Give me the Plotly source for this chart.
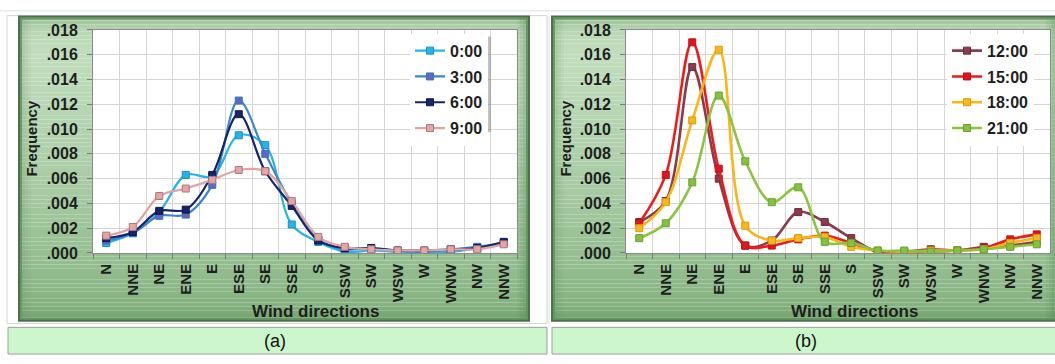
import math

import plotly.graph_objects as go

# ---------------- data ----------------
directions = ["N", "NNE", "NE", "ENE", "E", "ESE", "SE", "SSE",
              "S", "SSW", "SW", "WSW", "W", "WNW", "NW", "NNW"]

freq_0000 = [0.0008, 0.0016, 0.0033, 0.0063, 0.0062, 0.0095, 0.0087, 0.0023,
             0.0009, 0.0001, 0.0002, 0.0001, 0.0001, 0.0001, 0.0004, 0.0008]
freq_0300 = [0.0010, 0.0016, 0.0030, 0.0031, 0.0055, 0.0123, 0.0080, 0.0040,
             0.0011, 0.0003, 0.0004, 0.0002, 0.0001, 0.0003, 0.0005, 0.0008]
freq_0600 = [0.0012, 0.0017, 0.0034, 0.0035, 0.0063, 0.0112, 0.0066, 0.0038,
             0.0010, 0.0004, 0.0004, 0.0002, 0.0002, 0.0003, 0.0004, 0.0009]
freq_0900 = [0.0014, 0.0021, 0.0046, 0.0052, 0.0059, 0.0067, 0.0066, 0.0042,
             0.0013, 0.0005, 0.0003, 0.0002, 0.0002, 0.0003, 0.0003, 0.0007]

freq_1200 = [0.0025, 0.0042, 0.0150, 0.0060, 0.0006, 0.0010, 0.0033, 0.0025,
             0.0012, 0.0001, 0.0001, 0.0003, 0.0002, 0.0005, 0.0006, 0.0009]
freq_1500 = [0.0024, 0.0063, 0.0170, 0.0068, 0.0006, 0.0006, 0.0011, 0.0014,
             0.0008, 0.0001, 0.0000, 0.0001, 0.0002, 0.0004, 0.0011, 0.0015]
freq_1800 = [0.0020, 0.0041, 0.0107, 0.0164, 0.0022, 0.0010, 0.0012, 0.0013,
             0.0005, 0.0002, 0.0001, 0.0002, 0.0002, 0.0003, 0.0008, 0.0012]
freq_2100 = [0.0012, 0.0024, 0.0057, 0.0127, 0.0074, 0.0041, 0.0053, 0.0009,
             0.0008, 0.0002, 0.0002, 0.0001, 0.0002, 0.0003, 0.0005, 0.0007]

y_tick_vals = [0.000, 0.002, 0.004, 0.006, 0.008, 0.010, 0.012, 0.014, 0.016, 0.018]
y_tick_text = [".000", ".002", ".004", ".006", ".008", ".010", ".012", ".014", ".016", ".018"]

# ---------------- helpers ----------------
W, H = 1055, 364
FONT = "Arial, Liberation Sans, sans-serif"


def px(x):
    return x / W


def py(y):
    return 1 - y / H


def rect(x0, y0, x1, y1, fill, line=None, layer="below"):
    return dict(type="rect", xref="paper", yref="paper",
                x0=px(x0), x1=px(x1), y0=py(y1), y1=py(y0),
                fillcolor=fill, line=line or dict(width=0), layer=layer)


def mix(c1, c2, t):
    t = max(0.0, min(1.0, t))
    return "rgb(%d,%d,%d)" % tuple(round(a * (1 - t) + b * t) for a, b in zip(c1, c2))


def frame_shapes(x0, y0, x1, y1):
    """Green bevelled chart-area frame drawn as stacked bands."""
    out = []
    light = (222, 241, 217)
    dark = (118, 168, 114)
    h = y1 - y0
    step = 4
    v = 0
    while v < h:
        vm = v + step / 2
        t = 0.24 + 0.62 * (vm / h) ** 1.3 + 0.55 * math.exp(-vm / 10.0) \
            + 0.25 * math.exp(-(h - vm) / 12.0)
        out.append(rect(x0, y0 + v, x1, min(y0 + v + step, y1), mix(light, dark, t)))
        v += step
    for i, a in enumerate([0.30, 0.20, 0.12, 0.06]):
        out.append(rect(x0 + 3 * i, y0, x0 + 3 * (i + 1), y1, "rgba(90,140,88,%.2f)" % a))
        out.append(rect(x1 - 3 * (i + 1), y0, x1 - 3 * i, y1, "rgba(80,130,78,%.2f)" % (a * 1.5)))
    out.append(rect(x0 + 2, y0 + 2, x1 - 2, y1 - 2, "rgba(0,0,0,0)",
                    dict(color="rgba(100,148,96,0.9)", width=2)))
    out.append(rect(x0, y0, x1, y1, "rgba(0,0,0,0)", dict(color="#4e6e4e", width=2)))
    return out


# ---------------- figure ----------------
fig = go.Figure()

panel_a = [
    ("0:00", freq_0000, "#27b4e6", "#27b4e6", "#1590c8"),
    ("3:00", freq_0300, "#3a86cc", "#6a64c0", "#2a78c4"),
    ("6:00", freq_0600, "#18236a", "#18236a", "#0e1650"),
    ("9:00", freq_0900, "#e2a3a3", "#e8a4a0", "#a27a86"),
]
panel_b = [
    ("12:00", freq_1200, "#8a3b4c", "#8a3b4c", "#6e2a3a"),
    ("15:00", freq_1500, "#ee1b1b", "#e4141e", "#c01016"),
    ("18:00", freq_1800, "#fbb614", "#f6b820", "#e09a00"),
    ("21:00", freq_2100, "#8cc43f", "#86c043", "#6aa230"),
]

for name, vals, lc, mc, mlc in panel_a:
    fig.add_trace(go.Scatter(
        x=directions, y=vals, name=name, mode="lines+markers",
        line=dict(color=lc, width=2.2, shape="spline", smoothing=1.0),
        marker=dict(symbol="square", size=7, color=mc, line=dict(color=mlc, width=1)),
        xaxis="x", yaxis="y", legend="legend", legendgroup=name,
    ))

for name, vals, lc, mc, mlc in panel_b:
    fig.add_trace(go.Scatter(
        x=directions, y=vals, name=name, mode="lines+markers",
        line=dict(color=lc, width=2.6, shape="spline", smoothing=1.0),
        marker=dict(symbol="square", size=7, color=mc, line=dict(color=mlc, width=1)),
        xaxis="x2", yaxis="y2", legend="legend2", legendgroup=name,
    ))

xaxis_common = dict(
    type="category", categoryorder="array", categoryarray=directions,
    range=[-0.5, 15.5], tickson="boundaries", ticks="outside", ticklen=5,
    tickcolor="#7a7a7a", tickangle=-90, ticklabelstandoff=4,
    tickfont=dict(family=FONT, size=15, color="#1e1e1e", weight="bold"),
    showgrid=True, gridcolor="#d6d6d6", gridwidth=1,
    showline=True, linecolor="#8a8a8a", linewidth=1, mirror=True,
    zeroline=False, fixedrange=True,
)
yaxis_common = dict(
    range=[0, 0.018], tickvals=y_tick_vals, ticktext=y_tick_text,
    ticks="outside", ticklen=5, tickcolor="#7a7a7a", ticklabelstandoff=6,
    tickfont=dict(family=FONT, size=16, color="#1e1e1e", weight="bold"),
    showgrid=True, gridcolor="#d6d6d6", gridwidth=1,
    showline=True, linecolor="#8a8a8a", linewidth=1, mirror=True,
    zeroline=False, fixedrange=True,
)

legend_common = dict(
    bgcolor="#ffffff", borderwidth=0, tracegroupgap=2,
    font=dict(family=FONT, size=16, color="#1e1e1e", weight="bold"),
    xanchor="left", yanchor="top", itemclick=False, itemdoubleclick=False,
)

shapes = [
    dict(type="line", xref="paper", yref="paper", x0=0, x1=1, y0=py(3), y1=py(3),
         line=dict(color="#dedede", width=1), layer="below"),
    rect(7, 8, 547, 331, "rgba(0,0,0,0)", dict(color="#d4d4d4", width=1)),
    dict(type="line", xref="paper", yref="paper", x0=px(549), x1=px(549), y0=py(331), y1=py(8),
         line=dict(color="#dedede", width=1), layer="below"),
]
shapes += frame_shapes(19, 9, 529, 328)
shapes += frame_shapes(552, 9, 1058, 328)
shapes += [
    rect(93, 23, 517, 257, "#ffffff"),
    rect(626, 23, 1050, 257, "#ffffff"),
    rect(8, 335, 547, 363, "#ccf6cc", dict(color="#a0a0a0", width=1)),
    rect(552, 335, 1056, 363, "#ccf6cc", dict(color="#a0a0a0", width=1)),
    rect(413, 30, 491, 130, "rgba(120,120,120,0.45)", layer="above"),
    rect(950, 30, 1029, 130, "rgba(120,120,120,0.45)", layer="above"),
]


def note(text, x, y, size, bold=True, angle=0, color="#1e1e1e"):
    f = dict(family=FONT, size=size, color=color)
    if bold:
        f["weight"] = "bold"
    return dict(text=text, x=px(x), y=py(y), xref="paper", yref="paper", showarrow=False,
                xanchor="center", yanchor="middle", textangle=angle, font=f)


annotations = [
    note("Frequency", 32, 137, 15, angle=-90),
    note("Frequency", 566, 137, 15, angle=-90),
    note("Wind directions", 315, 318, 17),
    note("Wind directions", 854, 318, 17),
    note("(a)", 275, 349, 18, bold=False, color="#111111"),
    note("(b)", 806, 349, 18, bold=False, color="#111111"),
]

fig.update_layout(
    width=W, height=H, autosize=False,
    margin=dict(l=0, r=0, t=0, b=0, pad=0),
    paper_bgcolor="#ffffff", plot_bgcolor="rgba(0,0,0,0)",
    showlegend=True,
    xaxis=dict(xaxis_common, domain=[px(93), px(517)], anchor="y"),
    yaxis=dict(yaxis_common, domain=[py(257), py(23)], anchor="x"),
    xaxis2=dict(xaxis_common, domain=[px(626), px(1050)], anchor="y2"),
    yaxis2=dict(yaxis_common, domain=[py(257), py(23)], anchor="x2"),
    legend=dict(legend_common, x=px(410), y=py(27)),
    legend2=dict(legend_common, x=px(947), y=py(27)),
    shapes=shapes, annotations=annotations,
)

fig.write_html("out.html", config={"displayModeBar": False})
